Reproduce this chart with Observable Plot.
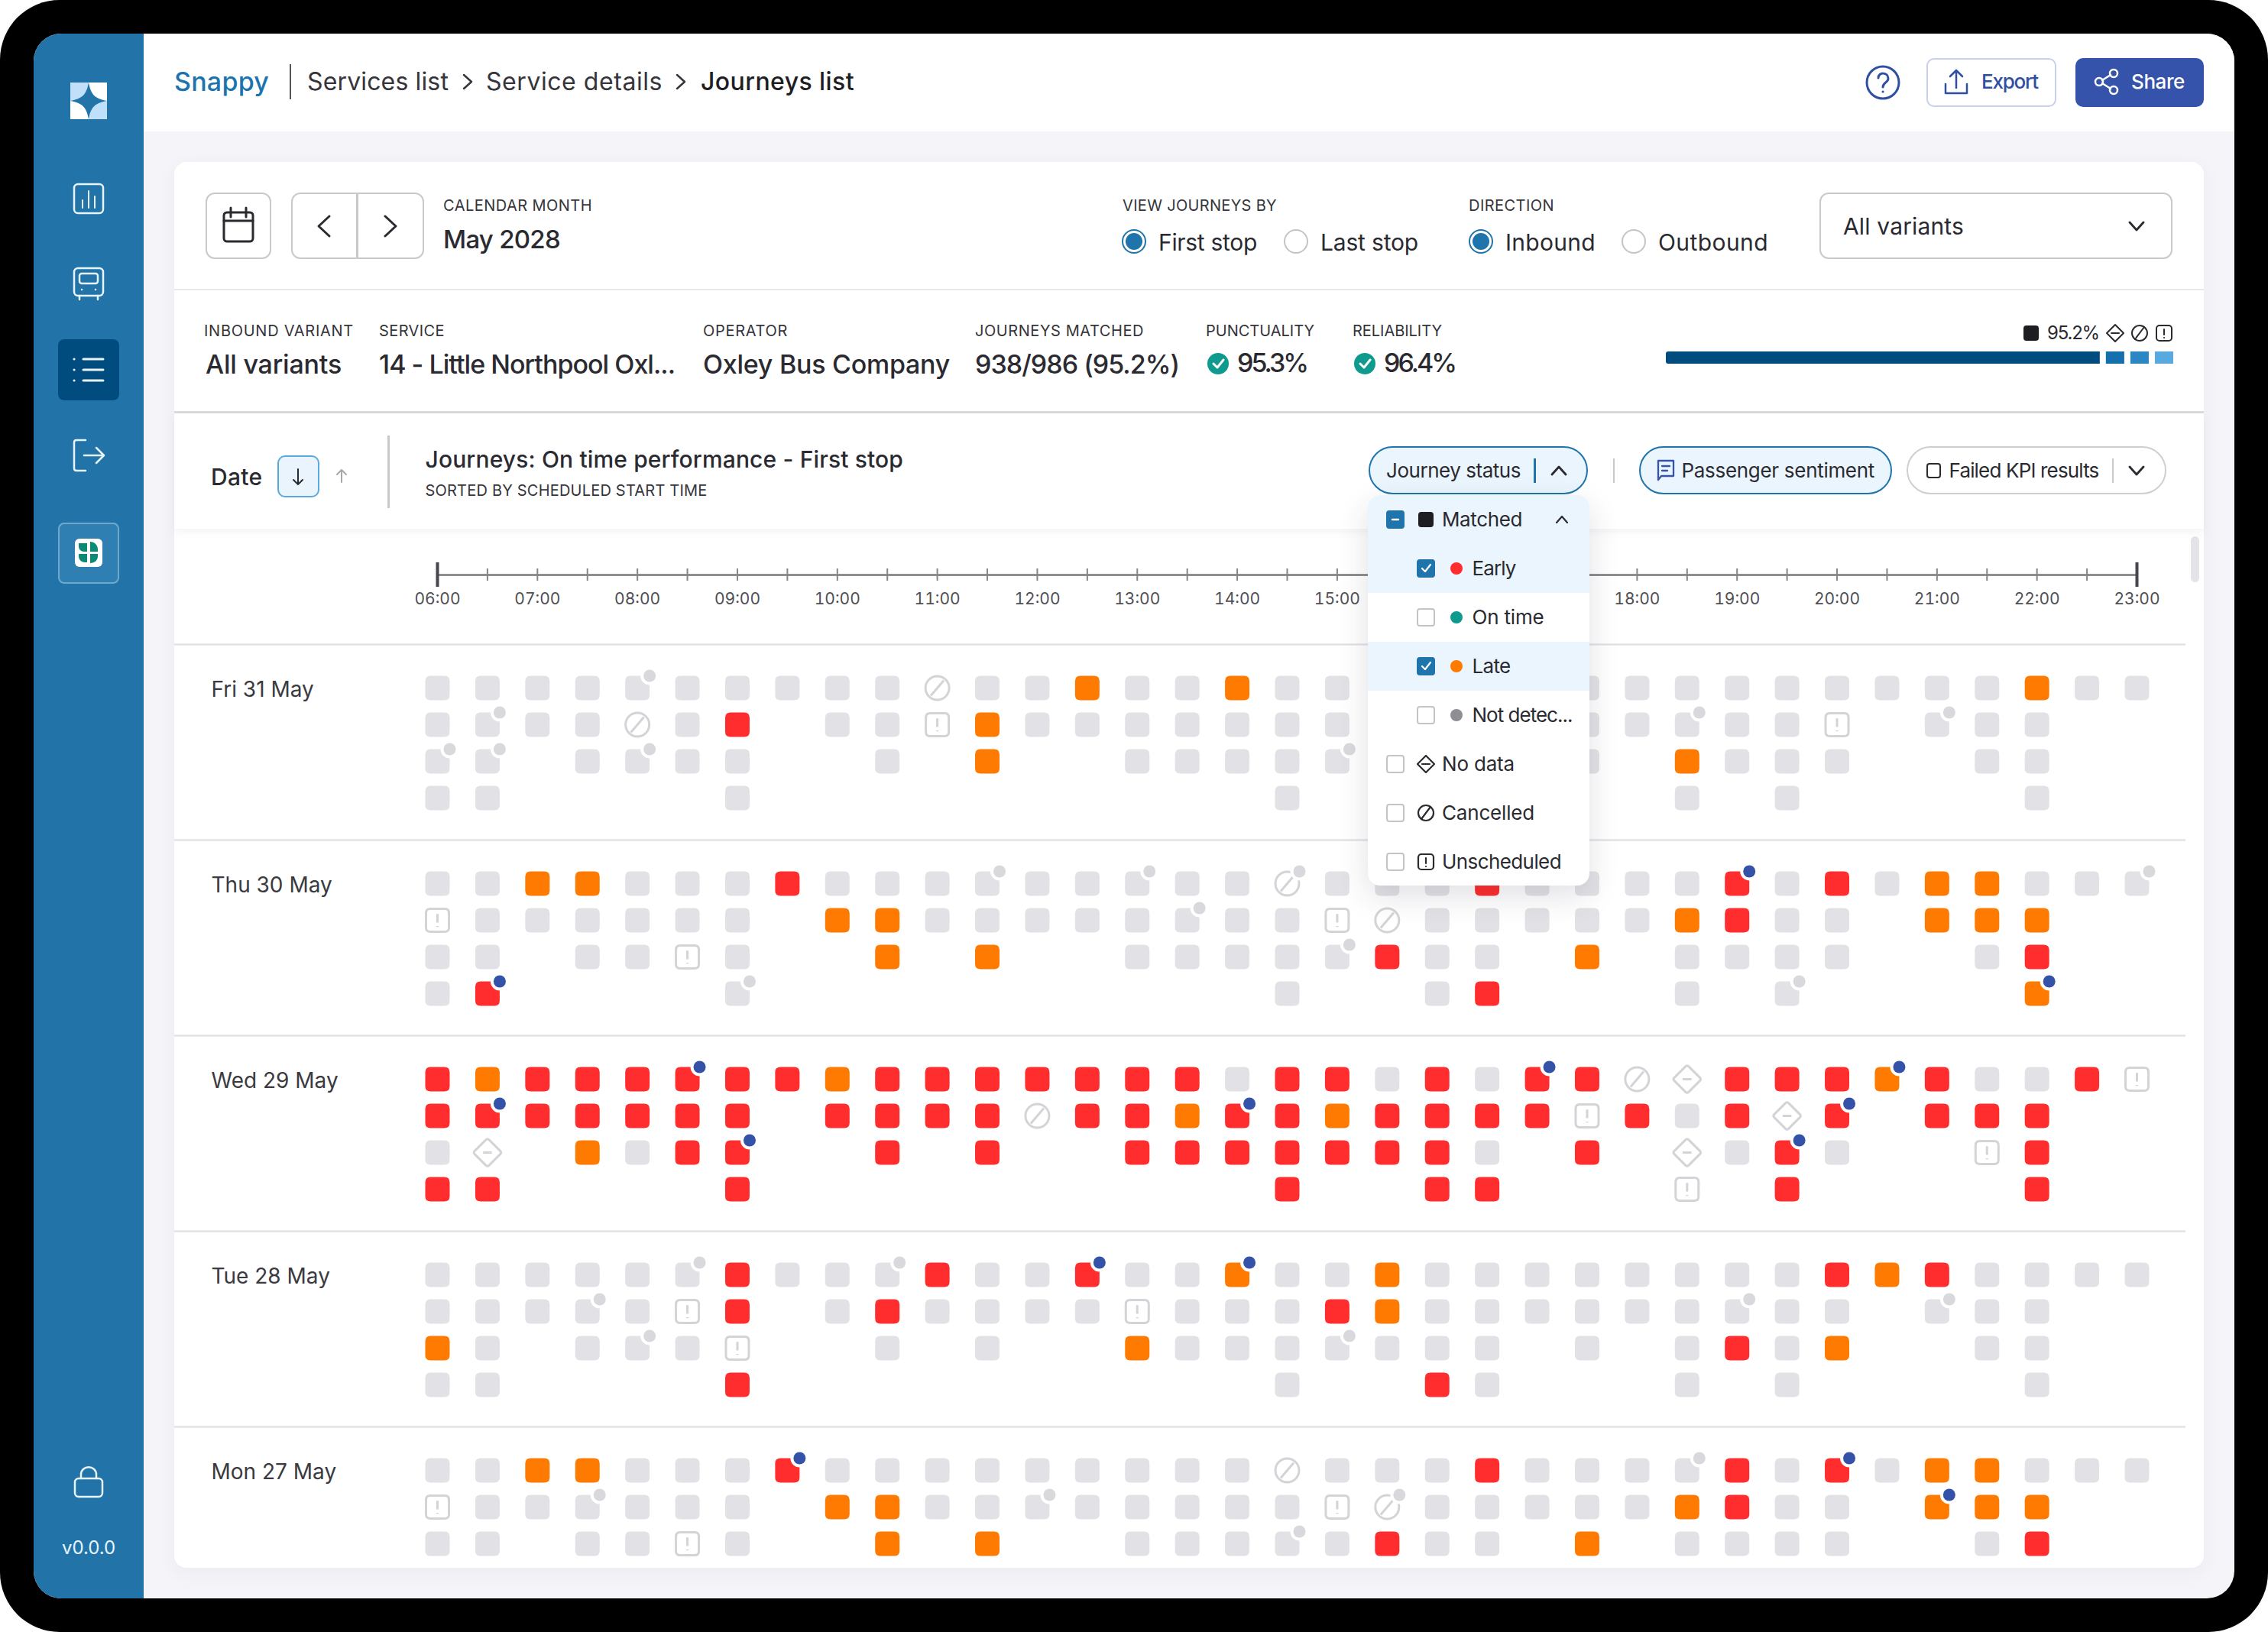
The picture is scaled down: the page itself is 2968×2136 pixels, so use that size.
<!doctype html>
<html>
<head>
<meta charset="utf-8">
<script src="https://cdn.jsdelivr.net/npm/d3@7"></script>
<script src="https://cdn.jsdelivr.net/npm/@observablehq/plot@0.6"></script>
<style>
html,body{margin:0;padding:0;width:2968px;height:2136px;overflow:hidden;background:#fff}
#root{position:absolute;left:0;top:0;width:2968px;height:2136px;overflow:hidden;font-family:Inter,"Noto Sans",sans-serif}
.a{position:absolute;box-sizing:border-box}
.t{position:absolute;white-space:nowrap;line-height:1;transform:translateY(-50%)}
svg.i{position:absolute;overflow:visible}
</style>
</head>
<body>
<div id="root"></div>
<script>
// ---------- chart data ----------
const days = ["Fri 31 May","Thu 30 May","Wed 29 May","Tue 28 May","Mon 27 May"];
const axisHours = [6,7,8,9,10,11,12,13,14,15,16,17,18,19,20,21,22,23];
// status per half hour: g not selected, o late, r early, c cancelled, u unscheduled, d no data, . no journey
const fri31 = [
 "ggggg ggggg cggog goggg ggggg ggggg ggogg",
 "ggggc gr.gg uoggg ggggg ggggg gggu. ggg..",
 "gg.gg gg..g .o..g ggggg gg.g. oggg. .gg..",
 "gg... .g... ..... ..g.. gg... g.g.. ..g.."];
const thu30 = [
 "ggoog ggrgg ggggg ggcgg grggg grgrg ooggg",
 "ugggg gg.oo ggggg ggguc ggggg orgg. ooo..",
 "gg.gg ug..o .o..g ggggr gg.o. gggg. .gr..",
 "gr... .g... ..... ..g.. gr... g.g.. ..o.."];
const wed29 = [
 "rorrr rrror rrrrr rgrrg rgrrc drrro rggru",
 "rrrrr rr.rr rrcrr orror rrrur grdr. rrr..",
 "gd.og rr..r .r..r rrrrr rg.r. dgrg. .ur..",
 "rr... .r... ..... ..r.. rr... u.r.. ..r.."];
const tue28 = [
 "ggggg grggg rggrg goggo ggggg gggro rgggg",
 "ggggg ur.gr ggggu gggro ggggg gggg. ggg..",
 "og.gg gu..g .g..o ggggg gg.g. grgo. .gg..",
 "gg... .r... ..... ..g.. rg... g.g.. ..g.."];
const mon27 = [
 "ggoog ggrgg ggggg ggcgg grggg grgrg ooggg",
 "ugggg gg.oo ggggg ggguc ggggg orgg. ooo..",
 "gg.gg ug..o .o..g ggggr gg.o. gggg. .gr.."];
// passenger sentiment markers: [row, half-hour column, g grey | b blue]
const fri31Dots = [[0,4,"g"],[1,1,"g"],[1,25,"g"],[1,30,"g"],[2,0,"g"],[2,1,"g"],[2,4,"g"],[2,18,"g"]];
const thu30Dots = [[0,11,"g"],[0,14,"g"],[0,17,"g"],[0,26,"b"],[0,34,"g"],[1,15,"g"],[2,18,"g"],[3,1,"b"],[3,6,"g"],[3,27,"g"],[3,32,"b"]];
const wed29Dots = [[0,5,"b"],[0,22,"b"],[0,29,"b"],[1,1,"b"],[1,16,"b"],[1,28,"b"],[2,6,"b"],[2,27,"b"]];
const tue28Dots = [[0,5,"g"],[0,9,"g"],[0,13,"b"],[0,16,"b"],[1,3,"g"],[1,26,"g"],[1,30,"g"],[2,4,"g"],[2,18,"g"]];
const mon27Dots = [[0,7,"b"],[0,25,"g"],[0,28,"b"],[1,3,"g"],[1,12,"g"],[1,19,"g"],[1,30,"b"],[2,17,"g"]];
const dayRows = [fri31,thu30,wed29,tue28,mon27];
const dayDots = [fri31Dots,thu30Dots,wed29Dots,tue28Dots,mon27Dots];
// reliability bar segments
const barNames = ["matched","noData","cancelled","unscheduled"];
const barValues = [95.2,5.3,5.3,5.3];

// ---------- tables ----------
const ROWS_PER_DAY = 16/3;
const cells = [], markers = [];
dayRows.forEach((rows,d)=>rows.forEach((str,r)=>{
  [...str.replace(/ /g,"")].forEach((s,k)=>{ if(s!==".") cells.push({status:s,hour:6+k/2,y:d*ROWS_PER_DAY+r}); });
}));
dayDots.forEach((list,d)=>list.forEach(([r,k,c])=>markers.push({kind:c,hour:6+k/2,y:d*ROWS_PER_DAY+r})));
const dayTable = days.map((label,i)=>({label,y:i*ROWS_PER_DAY}));

// ---------- custom symbols ----------
function roundRectPath(c,h,w,rad){
  c.moveTo(-w+rad,-h);c.lineTo(w-rad,-h);c.quadraticCurveTo(w,-h,w,-h+rad);
  c.lineTo(w,h-rad);c.quadraticCurveTo(w,h,w-rad,h);c.lineTo(-w+rad,h);
  c.quadraticCurveTo(-w,h,-w,h-rad);c.lineTo(-w,-h+rad);c.quadraticCurveTo(-w,-h,-w+rad,-h);c.closePath();
}
const half = size=>Math.sqrt(size/Math.PI);
const cellSymbol = {draw(c,size){const s=half(size);roundRectPath(c,s,s,s*0.44);}};
const unscheduledSymbol = {draw(c,size){const s=half(size);roundRectPath(c,s,s,s*0.36);
  c.moveTo(0,-s*0.55);c.lineTo(0,s*0.2);c.moveTo(0,s*0.5);c.lineTo(0,s*0.58);}};
const cancelledSymbol = {draw(c,size){const s=half(size);c.moveTo(s,0);c.arc(0,0,s,0,2*Math.PI);c.closePath();
  c.moveTo(-s*0.55,s*0.65);c.lineTo(s*0.55,-s*0.65);}};
const noDataSymbol = {draw(c,size){const s=half(size)*1.12;
  c.moveTo(-s*0.12,-s*0.93);c.quadraticCurveTo(0,-s*1.05,s*0.12,-s*0.93);c.lineTo(s*0.93,-s*0.12);c.quadraticCurveTo(s*1.05,0,s*0.93,s*0.12);
  c.lineTo(s*0.12,s*0.93);c.quadraticCurveTo(0,s*1.05,-s*0.12,s*0.93);c.lineTo(-s*0.93,s*0.12);c.quadraticCurveTo(-s*1.05,0,-s*0.93,-s*0.12);c.closePath();
  c.moveTo(-s*0.32,0);c.lineTo(s*0.32,0);}};

// ---------- the chart ----------
const yTop = -13/3;
const chart = Plot.plot({
  width:2656,height:1360,marginLeft:0,marginRight:24,marginTop:0,marginBottom:1300,
  style:{background:"transparent",fontFamily:"Inter, sans-serif",overflow:"visible"},
  x:{domain:[6,23],range:[344,2568]},
  y:{domain:[yTop,24],range:[0,1360],axis:null},
  color:{domain:["g","o","r"],range:["#e2e2e6","#ff7a00","#ff2d2d"]},
  marks:[
    Plot.ruleY(days,{y:(d,i)=>i*ROWS_PER_DAY-1.1875,stroke:"#e3e3e6",strokeWidth:2.5}),
    Plot.ruleY([-3.083],{x1:6,x2:23,stroke:"#8e8e93",strokeWidth:3}),
    Plot.ruleX(d3.range(6.5,23,0.5),{x:d=>d,y1:-3.083-1/6,y2:-3.083+1/6,stroke:"#85858a",strokeWidth:2}),
    Plot.ruleX([6,23],{y1:-3.083-1/3,y2:-3.083+1/3,stroke:"#47474c",strokeWidth:4}),
    Plot.axisX({anchor:"bottom",ticks:axisHours,tickSize:0,tickPadding:24,label:null,fontSize:21,fill:"#4f4f55",
      tickFormat:d=>String(d).padStart(2,"0")+":00"}),
    Plot.text(dayTable,{text:"label",y:"y",frameAnchor:"left",dx:48,dy:3,fontSize:28,fill:"#3a3a40",textAnchor:"start"}),
    Plot.dot(cells.filter(d=>"gor".includes(d.status)),{x:"hour",y:"y",fill:"status",r:16,symbol:cellSymbol}),
    Plot.dot(cells.filter(d=>d.status==="u"),{x:"hour",y:"y",r:15,symbol:unscheduledSymbol,fill:"#fff",stroke:"#d4d4d8",strokeWidth:3}),
    Plot.dot(cells.filter(d=>d.status==="c"),{x:"hour",y:"y",r:15.5,symbol:cancelledSymbol,fill:"#fff",stroke:"#d4d4d8",strokeWidth:3}),
    Plot.dot(cells.filter(d=>d.status==="d"),{x:"hour",y:"y",r:16,symbol:noDataSymbol,fill:"#fff",stroke:"#d4d4d8",strokeWidth:3}),
    Plot.dot(markers,{x:"hour",y:"y",dx:16,dy:-16,r:12,fill:"#fff"}),
    Plot.dot(markers.filter(d=>d.kind==="g"),{x:"hour",y:"y",dx:16,dy:-16,r:8,fill:"#d9d9dd"}),
    Plot.dot(markers.filter(d=>d.kind==="b"),{x:"hour",y:"y",dx:16,dy:-16,r:8,fill:"#3452a8"})
  ]
});

// ---------- page chrome ----------
const root = document.getElementById("root");
function box(x1,y1,x2,y2,css){const e=document.createElement("div");e.className="a";
  e.style.cssText=`left:${x1}px;top:${y1}px;width:${x2-x1}px;height:${y2-y1}px;`+(css||"");root.appendChild(e);return e;}
function T(s,x,cy,size,w,color,weight){const e=document.createElement("span");e.className="t";e.textContent=s;
  e.style.cssText=`left:${x}px;top:${cy}px;font-size:${size}px;color:${color||"#2a2a30"};font-weight:${weight||400};`;
  root.appendChild(e);
  if(w){const n=e.getBoundingClientRect().width;e.style.letterSpacing=((w-n)/s.length)+"px";}
  return e;}
function I(cx,cy,inner,stroke,sw){const ns="http://www.w3.org/2000/svg";const e=document.createElementNS(ns,"svg");
  e.setAttribute("class","i");e.setAttribute("width",2);e.setAttribute("height",2);e.setAttribute("viewBox","-1 -1 2 2");
  e.style.left=(cx-1)+"px";e.style.top=(cy-1)+"px";
  e.innerHTML=`<g fill="none" stroke="${stroke||"#2a2a30"}" stroke-width="${sw||2.5}" stroke-linecap="round" stroke-linejoin="round">${inner}</g>`;
  root.appendChild(e);return e;}
const chevL='<path d="M7,-13L-7,0L7,13"/>',chevR='<path d="M-7,-13L7,0L-7,13"/>';
const chevD='<path d="M-9,-5L0,5L9,-5"/>',chevU='<path d="M-9,5L0,-5L9,5"/>';
const NAVY="#2f4fa3",BLUE="#1f74ab",TXT="#2a2a30",LINE="#c9c9cd";

// device and screen
box(0,0,2968,2136,"background:#000;border-radius:78px;");
box(44,44,2924,2092,"background:#f5f4f8;border-radius:36px;overflow:hidden;");
box(44,44,188,2092,"background:#2274a8;border-radius:36px 0 0 36px;");
box(188,44,2924,172,"background:#fff;border-radius:0 36px 0 0;");
// card
box(228,212,2884,2052,"background:#fff;border-radius:16px;box-shadow:0 6px 24px rgba(60,60,90,.05);");

// sidebar
I(116,132,'<path fill="#fff" stroke="none" d="M-24,-24H24V24H-24Z"/><path fill="#bfe0f8" stroke="none" d="M-24,-24H0V0H-24ZM0,0H24V24H0Z"/><path fill="#2274a8" stroke="none" d="M0,-24C3,-8 8,-3 24,0C8,3 3,8 0,24C-3,8 -8,3 -24,0C-8,-3 -3,-8 0,-24Z"/>');
I(116,260,'<rect x="-19" y="-19" width="38" height="38" rx="5"/><path d="M-8,12V2M0,12V-10M8,12V-3" stroke-width="2"/>',"#e8f4fc",2.5);
I(116,370,'<rect x="-19" y="-19" width="38" height="36" rx="5"/><rect x="-12" y="-12" width="24" height="13" rx="3"/><path d="M-9,9h.1M9,9h.1M-12,17v5M12,17v5"/>',"#e8f4fc",2.5);
box(76,444,156,524,"background:#004c7e;border-radius:8px;");
I(116,484,'<path d="M-7,-14H19M-7,0H19M-7,14H19M-19,-14h.1M-19,0h.1M-19,14h.1"/>',"#e8f4fc",3);
I(116,596,'<path d="M-4,-20H-16C-18,-20 -19,-19 -19,-17V17C-19,19 -18,20 -16,20H-4M-6,0H19M10,-10L20,0L10,10"/>',"#e8f4fc",2.5);
box(76,684,156,764,"background:#2f7fb2;border:2px solid #6fa8cf;border-radius:8px;");
box(98,705,134,742,"background:#fff;border-radius:6px;");
I(116,723,'<path fill="#0b8a76" stroke="none" d="M-13,-12H-2V-1H-6C-10,-1 -13,-4 -13,-8ZM2,-14C7,-14 12,-10 12,-4V-1H2ZM-13,2H-2V13H-5C-10,13 -13,9 -13,5ZM2,2H12V5C12,10 8,14 2,14Z"/>');
I(116,1941,'<rect x="-18" y="-6" width="36" height="24" rx="5"/><path d="M-10,-6V-11C-10,-24 10,-24 10,-11V-6"/>',"#e8f4fc",2.5);
T("v0.0.0",81,2026,24,70,"#e8f4fc");

// top bar
T("Snappy",228,107,34,124,"#1b74ae",500);
box(378.5,84,381,130,"background:#555;");
T("Services list",402,107,32,185,"#35353b");
I(612,107,'<path d="M-5,-9L5,0L-5,9"/>',"#35353b",2.5);
T("Service details",636,107,32,231,"#35353b");
I(891,107,'<path d="M-5,-9L5,0L-5,9"/>',"#35353b",2.5);
T("Journeys list",917,107,32,201,"#1e1e24",500);
I(2464,107.5,'<circle r="21"/><path d="M-6,-6C-6,-14 7,-14 7,-5C7,0 0,0 0,6M0,12h.1"/>',NAVY,3);
box(2521,76,2691,140,"background:#fff;border:2.5px solid #c7cfea;border-radius:10px;");
I(2560,107,'<path d="M0,8V-15M-8,-7L0,-15L8,-7M-14,3V15H14V3"/>',NAVY,2.5);
T("Export",2593,107,26,74,NAVY,500);
box(2716,76,2884,140,"background:#3553ab;border-radius:10px;");
I(2757,107,'<circle cx="9" cy="-11" r="5"/><circle cx="-10" cy="0" r="5"/><circle cx="9" cy="11" r="5"/><path d="M-6,-2L5,-9M-6,2L5,9"/>',"#fff",2.5);
T("Share",2789,107,26,70,"#fff",500);

// control row
box(269,252,355,339,`border:2.5px solid ${LINE};border-radius:12px;background:#fff;`);
I(312,295,'<rect x="-19" y="-17" width="38" height="38" rx="4"/><path d="M-19,-6H19M-10,-23V-11M10,-23V-11"/>',TXT,3);
box(381,252,555,339,`border:2.5px solid ${LINE};border-radius:12px;background:#fff;`);
box(466,253,468.5,338,`background:${LINE};`);
I(424,295.5,chevL,TXT,3);I(511,295.5,chevR,TXT,3);
T("CALENDAR MONTH",580,269,20,195,"#35353b");
T("May 2028",580,313,33,153,"#2a2a30",500);
function radio(cx,cy,on){box(cx-16,cy-16,cx+16,cy+16,`border-radius:50%;background:#fff;border:2.5px solid ${on?BLUE:"#c4c4c8"};`);
  if(on)box(cx-11,cy-11,cx+11,cy+11,`border-radius:50%;background:${BLUE};`);}
T("VIEW JOURNEYS BY",1469,269,20,202,"#35353b");
radio(1484,316,true);T("First stop",1516,316.5,30,129);
radio(1696,316,false);T("Last stop",1728,316.5,30,128);
T("DIRECTION",1922,269,20,112,"#35353b");
radio(1938,316,true);T("Inbound",1970,316.5,30,118);
radio(2138,316,false);T("Outbound",2170,316.5,30,144);
box(2381,252,2843,339,`border:2.5px solid ${LINE};border-radius:12px;background:#fff;`);
T("All variants",2412,296,30,158);
I(2796,296,chevD,TXT,2.8);
box(228,377.5,2884,380,"background:#e8e8ea;");

// stats row
T("INBOUND VARIANT",267,433,20,196,"#35353b");
T("All variants",269,477,34,178,"#2a2a30",500);
T("SERVICE",496,433,20,86,"#35353b");
T("14 - Little Northpool Oxl...",496,477,34,387,"#2a2a30",500);
T("OPERATOR",920,433,20,111,"#35353b");
T("Oxley Bus Company",920,477,34,323,"#2a2a30",500);
T("JOURNEYS MATCHED",1276,433,20,221,"#35353b");
T("938/986 (95.2%)",1276,477,34,267,"#2a2a30",500);
T("PUNCTUALITY",1578,433,20,142,"#35353b");
function check(cx,cy){box(cx-14,cy-14,cx+14,cy+14,"border-radius:50%;background:#0e9a8c;");I(cx,cy,'<path d="M-6,0L-1,5L7,-5"/>',"#fff",3);}
check(1594,476);T("95.3%",1619,475,34,91,"#2a2a30",500);
T("RELIABILITY",1770,433,20,117,"#35353b");
check(1786,476);T("96.4%",1811,475,34,93,"#2a2a30",500);
box(2648,426,2668,446,"background:#1d1d22;border-radius:4px;");
T("95.2%",2679,436,24,68,"#2a2a30");
const diamondIcon='<path d="M0,-11L11,0L0,11L-11,0ZM-5,0H5"/>',slashIcon='<circle r="10"/><path d="M-6,8L6,-8"/>',bangIcon='<rect x="-10" y="-10" width="20" height="20" rx="4"/><path d="M0,-5V2M0,6h.1"/>';
I(2768,436,diamondIcon,TXT,2);I(2800,436,slashIcon,TXT,2);I(2832,436,bangIcon,TXT,2);
// reliability bar, through Plot
const barHost=box(2180,460,2852,476,"overflow:hidden;border-radius:3px 0 0 3px;");
barHost.appendChild(Plot.plot({width:672,height:16,margin:0,style:{background:"transparent"},
  x:{axis:null,range:[0,672]},color:{domain:barNames,range:["#004c7e","#146fae","#2b87c4","#57a9e0"]},
  marks:[Plot.barX(barNames.map((name,i)=>({name,value:barValues[i]})),{x:"value",fill:"name",insetRight:8})]}));
box(228,538,2884,540.5,"background:#d9d9dc;");

// chart itself, between the chrome layers
const host=box(228,692,2884,2052,"");
host.appendChild(chart);
box(2866.5,702,2878,762,"background:#e4e4e8;border-radius:6px;");

// chart header
box(228,540.5,2884,692,"background:#fff;box-shadow:0 5px 10px rgba(60,60,90,.06);");
T("Date",276,624,30,67.5,"#2a2a30",500);
box(363,596,417.5,651,"background:#e9f4fd;border:2.5px solid #5aa9dc;border-radius:10px;");
I(390,624,'<path d="M0,-10V10M-6,4L0,10L6,4"/>',TXT,2);
I(447,623,'<path d="M0,-8V8M-6,-2L0,-8L6,-2"/>',"#a8a8ae",2);
box(507,570,509.5,665,`background:${LINE};`);
T("Journeys: On time performance - First stop",556.5,601,30,625.5,"#2a2a30",500);
T("SORTED BY SCHEDULED START TIME",556.5,641.5,20,369,"#35353b");
box(1790.5,584,2078,647,`background:#ebf5fe;border:2.5px solid ${BLUE};border-radius:32px;`);
T("Journey status",1814,616,26,176,"#2a2a30");
box(2007,600,2009.5,632,`background:${BLUE};`);
I(2039.5,616,chevU,TXT,2.8);
box(2110.5,600,2113,632,`background:${LINE};`);
box(2144.5,584,2476,647,`background:#ebf5fe;border:2.5px solid ${BLUE};border-radius:32px;`);
I(2180,615,'<path d="M-10,-12H10V8H-6L-10,13ZM-5,-5H5M-5,1H2"/>',"#3553ab",2.3);
T("Passenger sentiment",2200.5,616,26,252.5,"#2a2a30");
box(2495,584,2834.5,647,"background:#fff;border:2.5px solid #cfcfd3;border-radius:32px;");
box(2521,606,2540,626,`border:2.5px solid ${TXT};border-radius:4px;`);
T("Failed KPI results",2550.5,616,26,196,"#2a2a30");
box(2763.5,600,2766,632,`background:${LINE};`);
I(2796,616,chevD,TXT,2.8);

// dropdown
box(1790,648,2080,1159,"background:#fff;border-radius:16px;box-shadow:0 14px 40px rgba(40,40,70,.14);");
box(1790,648,2080,776,"background:#ebf5fe;border-radius:16px 16px 0 0;");
box(1790,840,2080,904,"background:#ebf5fe;");
function cb(x,cy,state){const on=!!state;box(x,cy-12,x+24,cy+12,`border-radius:4px;background:${on?BLUE:"#fff"};border:2.2px solid ${on?BLUE:"#c4c4c8"};`);
  if(state==="check")I(x+12,cy,'<path d="M-5,0L-1,4L6,-5"/>',"#fff",2.2);
  if(state==="minus")I(x+12,cy,'<path d="M-4,0H4"/>',"#fff",2.4);}
cb(1814,680,"minus");box(1856,670,1876,690,"background:#1d1d22;border-radius:4px;");
T("Matched",1887,680,26,105);I(2044,680,'<path d="M-7,4L0,-4L7,4"/>',TXT,2.2);
const subs=[["Early",744,"#ff2d2d","check",57],["On time",808,"#0e9a8c",null,94],["Late",872,"#ff7a00","check",50],["Not detec...",936,"#8e8e93",null,131]];
subs.forEach(([s,cy,c,st,w])=>{cb(1854,cy,st);box(1898,cy-8,1914,cy+8,`border-radius:50%;background:${c};`);T(s,1926.5,cy,26,w);});
const others=[["No data",1000,diamondIcon,95],["Cancelled",1064,slashIcon,121],["Unscheduled",1128,bangIcon,156]];
others.forEach(([s,cy,ic,w])=>{cb(1814,cy,null);I(1866,cy,ic,TXT,2.2);T(s,1887,cy,26,w);});
</script>
</body>
</html>
